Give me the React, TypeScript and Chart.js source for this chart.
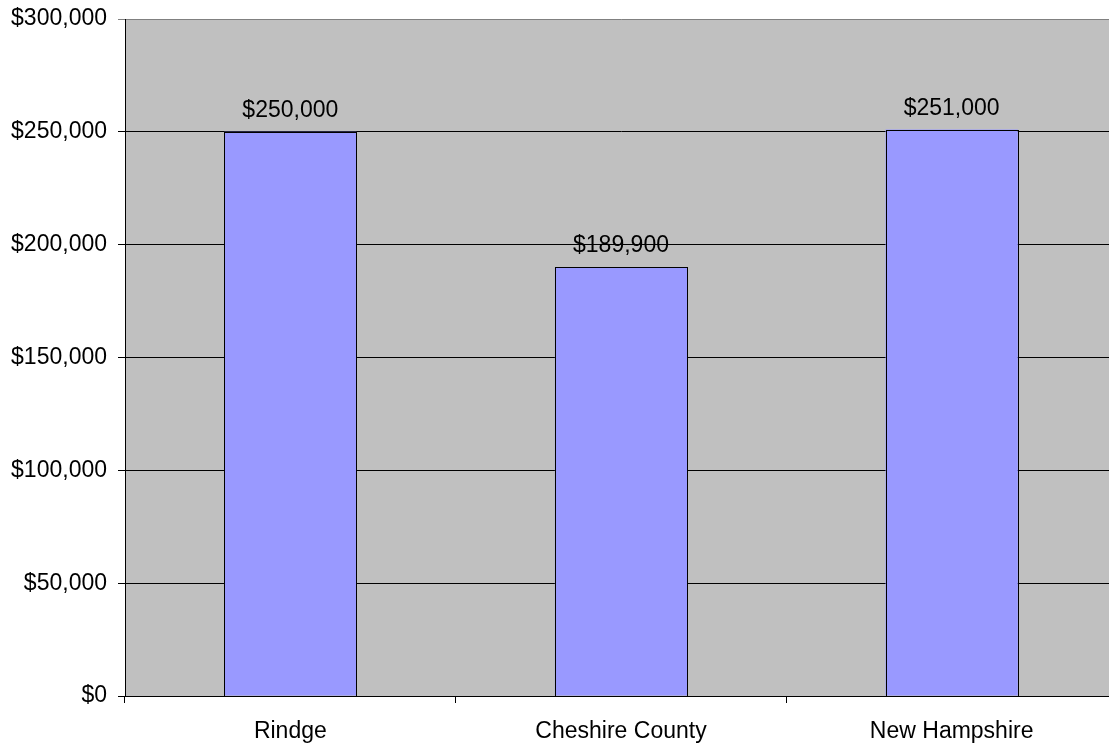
import React, { useEffect, useRef } from "react";
import { Chart, registerables } from "chart.js";

Chart.register(...registerables);

const categories = ["Rindge", "Cheshire County", "New Hampshire"];
const values = [250000, 189900, 251000];
const yMin = 0;
const yMax = 300000;
const yStep = 50000;

const fmt = (v: number) => "$" + Math.round(v).toLocaleString("en-US");
const FONT = '"Liberation Sans", Arial, sans-serif';

const plotBg = {
  id: "plotBg",
  beforeDraw(chart: any) {
    const { ctx, chartArea } = chart;
    ctx.save();
    ctx.fillStyle = "#C0C0C0";
    ctx.fillRect(chartArea.left, chartArea.top, chartArea.right - chartArea.left, chartArea.bottom - chartArea.top);
    ctx.restore();
  },
};

const barOutlines = {
  id: "barOutlines",
  afterDatasetsDraw(chart: any) {
    const { ctx } = chart;
    const meta = chart.getDatasetMeta(0);
    ctx.save();
    ctx.strokeStyle = "#000";
    ctx.lineWidth = 1;
    meta.data.forEach((bar: any) => {
      const l = Math.round(bar.x - bar.width / 2) + 0.5;
      const r = Math.round(bar.x + bar.width / 2) + 0.5;
      const t = Math.round(bar.y) + 0.5;
      const b = Math.round(bar.base) + 0.5;
      ctx.strokeRect(l, t, r - l, b - t);
    });
    ctx.restore();
  },
};

const valueLabels = {
  id: "valueLabels",
  afterDatasetsDraw(chart: any) {
    const { ctx } = chart;
    const meta = chart.getDatasetMeta(0);
    ctx.save();
    ctx.font = `23px ${FONT}`;
    ctx.fillStyle = "#000";
    ctx.textAlign = "center";
    ctx.textBaseline = "alphabetic";
    meta.data.forEach((bar: any, i: number) => {
      ctx.fillText(fmt(values[i]), bar.x, bar.y - 15);
    });
    ctx.restore();
  },
};

export default function App() {
  const ref = useRef<HTMLCanvasElement>(null);
  useEffect(() => {
    if (!ref.current) return;
    const chart = new Chart(ref.current, {
      type: "bar",
      data: {
        labels: categories,
        datasets: [
          {
            data: values,
            backgroundColor: "#9999FF",
            borderWidth: 0,
            barPercentage: 0.4,
            categoryPercentage: 1,
          },
        ],
      },
      options: {
        responsive: false,
        animation: false,
        layout: { padding: { top: 19, right: 0, left: 0, bottom: 0 } },
        plugins: { legend: { display: false }, tooltip: { enabled: false } },
        scales: {
          x: {
            grid: { drawOnChartArea: false, tickLength: 7, color: "#000", offset: true },
            border: { color: "#000", width: 1 },
            ticks: { color: "#000", font: { family: FONT, size: 23 }, padding: 15, maxRotation: 0 },
            afterFit(scale: any) {
              scale.height = 51;
              scale.paddingLeft = 0;
              scale.paddingRight = 0;
            },
          },
          y: {
            min: yMin,
            max: yMax,
            grid: {
              tickLength: 7,
              color: (c: any) => (c.tick && c.tick.value === yMax ? "#808080" : "#000"),
            },
            border: { color: "#000", width: 1 },
            ticks: {
              stepSize: yStep,
              color: "#000",
              font: { family: FONT, size: 23 },
              padding: 11,
              callback: (v: any) => fmt(Number(v)),
            },
            afterFit(scale: any) {
              scale.width = 125;
              scale.paddingTop = 0;
              scale.paddingBottom = 0;
            },
          },
        },
      },
      plugins: [plotBg, barOutlines, valueLabels],
    });
    return () => chart.destroy();
  }, []);
  return (
    <div style={{ position: "absolute", left: 0, top: 0, width: 1109, height: 747, overflow: "hidden", background: "#fff" }}>
      <canvas ref={ref} width={1117} height={747} style={{ width: 1117, height: 747, display: "block" }} />
    </div>
  );
}
